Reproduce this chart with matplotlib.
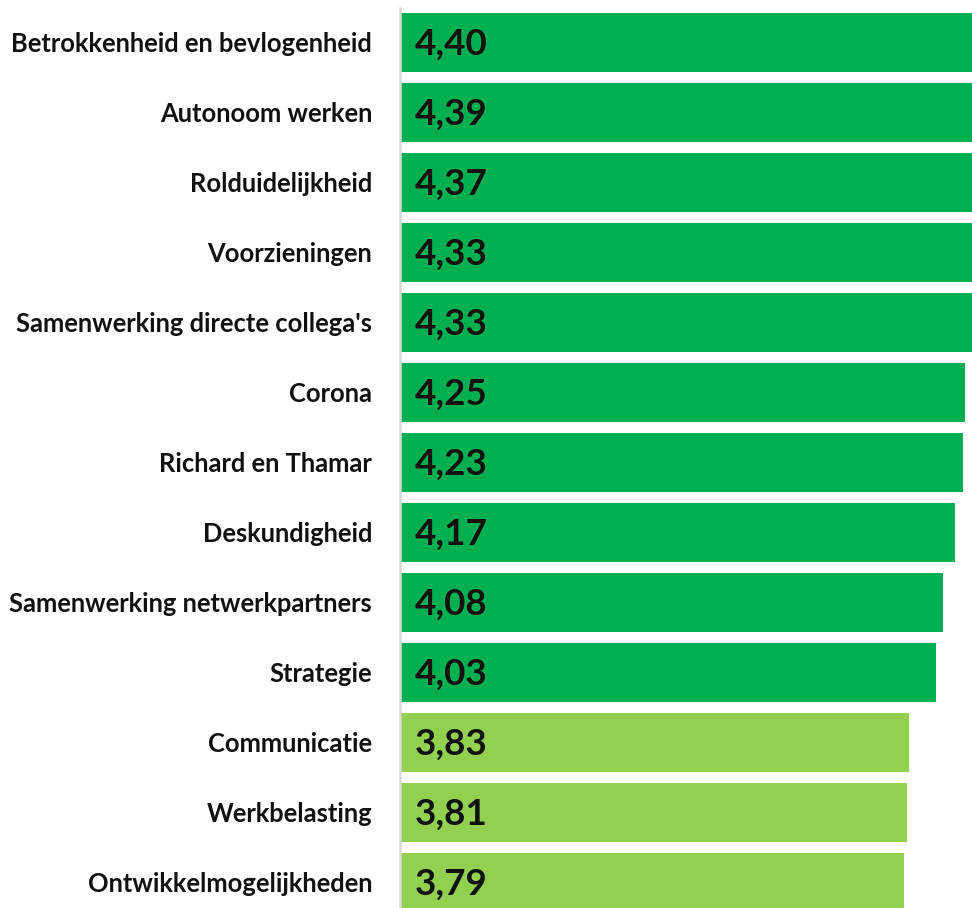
import numpy as np
import matplotlib.pyplot as plt

categories = ["Betrokkenheid en bevlogenheid", "Autonoom werken", "Rolduidelijkheid",
              "Voorzieningen", "Samenwerking directe collega's", "Corona",
              "Richard en Thamar", "Deskundigheid", "Samenwerking netwerkpartners",
              "Strategie", "Communicatie", "Werkbelasting", "Ontwikkelmogelijkheden"]
scores = [4.40, 4.39, 4.37, 4.33, 4.33, 4.25, 4.23, 4.17, 4.08, 4.03, 3.83, 3.81, 3.79]
threshold = 4.0

dark_green = "#00B050"
light_green = "#92D050"

W, H = 972, 908
fig = plt.figure(figsize=(W / 100, H / 100), dpi=100)
top_px = 8
ax = fig.add_axes([400 / W, 0, 1 - 400 / W, (H - top_px) / H])

y = np.arange(len(categories))
colors = [dark_green if s >= threshold else light_green for s in scores]
ax.barh(y, scores, height=0.84, color=colors)

for yi, s in zip(y, scores):
    ax.text(0.11, yi + 0.02, f"{s:.2f}".replace(".", ","), va="center", ha="left",
            fontsize=26.5, fontweight="bold", family="Lato", color="#111111")

ax.set_xlim(0, 4.30)
ax.set_ylim((H - 42.5) / 70, (top_px - 42.5) / 70)
ax.set_yticks(y)
ax.set_yticklabels(categories, fontsize=18.4, fontweight="bold", family="Lato", color="#111111")
ax.tick_params(axis="y", length=0, pad=20)
ax.set_xticks([])
for side in ["top", "right", "bottom"]:
    ax.spines[side].set_visible(False)
ax.spines["left"].set_color("#d9d9d9")
ax.spines["left"].set_linewidth(1.8)

fig.savefig("out.png", dpi=100)
